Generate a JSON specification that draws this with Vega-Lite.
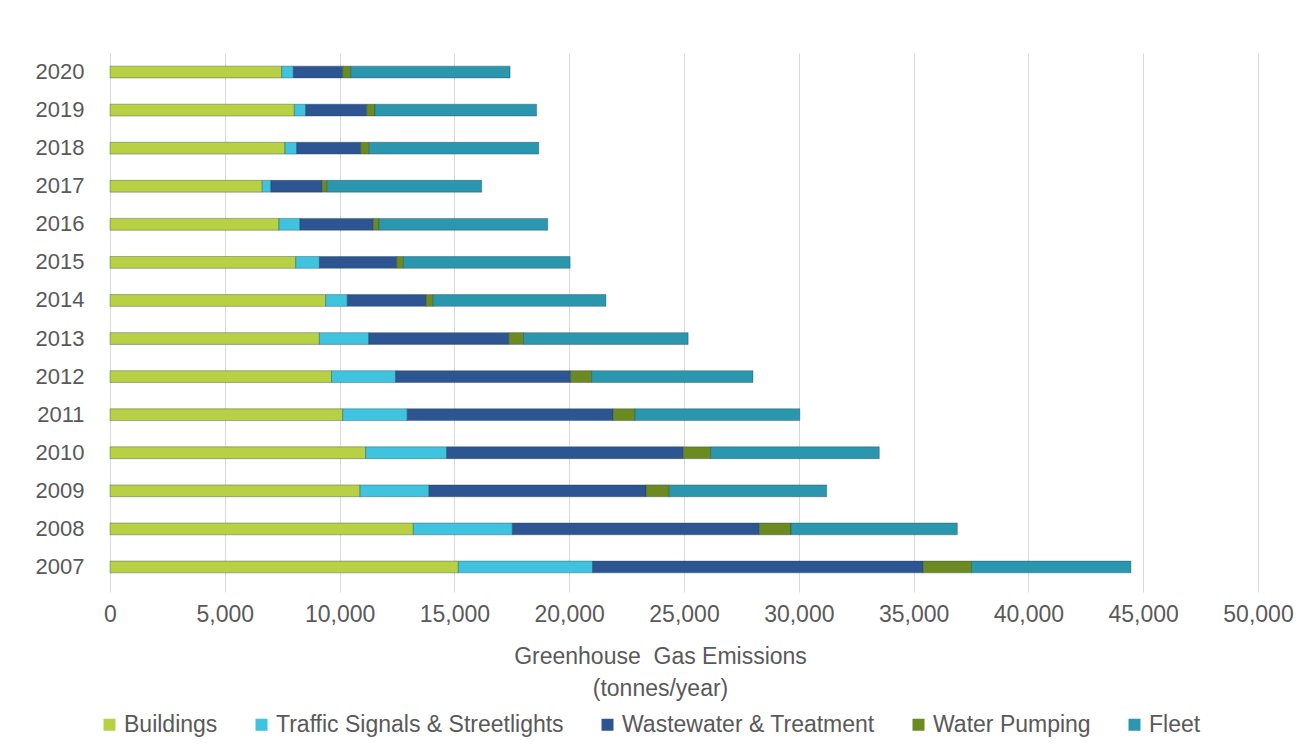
{
  "$schema": "https://vega.github.io/schema/vega-lite/v6.json",
  "autosize": {"type": "none"},
  "width": 1148,
  "height": 533,
  "padding": {"left": 110, "top": 53, "right": 54, "bottom": 168},
  "background": "white",
  "config": {
    "font": "Liberation Sans",
    "view": {"stroke": null},
    "axis": {"labelColor": "#595959", "titleColor": "#595959", "labelFontSize": 23, "titleFontSize": 23, "titleFontWeight": "normal"},
    "legend": {"labelColor": "#595959", "labelFontSize": 23}
  },
  "data": {
    "values": [
      {"year": "2007", "Buildings": 15170, "Traffic Signals & Streetlights": 5850, "Wastewater & Treatment": 14400, "Water Pumping": 2105, "Fleet": 6940},
      {"year": "2008", "Buildings": 13210, "Traffic Signals & Streetlights": 4315, "Wastewater & Treatment": 10755, "Water Pumping": 1380, "Fleet": 7245},
      {"year": "2009", "Buildings": 10890, "Traffic Signals & Streetlights": 3005, "Wastewater & Treatment": 9450, "Water Pumping": 1015, "Fleet": 6855},
      {"year": "2010", "Buildings": 11135, "Traffic Signals & Streetlights": 3530, "Wastewater & Treatment": 10305, "Water Pumping": 1190, "Fleet": 7345},
      {"year": "2011", "Buildings": 10130, "Traffic Signals & Streetlights": 2815, "Wastewater & Treatment": 8970, "Water Pumping": 945, "Fleet": 7185},
      {"year": "2012", "Buildings": 9650, "Traffic Signals & Streetlights": 2790, "Wastewater & Treatment": 7620, "Water Pumping": 915, "Fleet": 7030},
      {"year": "2013", "Buildings": 9120, "Traffic Signals & Streetlights": 2150, "Wastewater & Treatment": 6100, "Water Pumping": 640, "Fleet": 7170},
      {"year": "2014", "Buildings": 9390, "Traffic Signals & Streetlights": 945, "Wastewater & Treatment": 3425, "Water Pumping": 320, "Fleet": 7520},
      {"year": "2015", "Buildings": 8090, "Traffic Signals & Streetlights": 1030, "Wastewater & Treatment": 3370, "Water Pumping": 290, "Fleet": 7260},
      {"year": "2016", "Buildings": 7360, "Traffic Signals & Streetlights": 915, "Wastewater & Treatment": 3195, "Water Pumping": 250, "Fleet": 7345},
      {"year": "2017", "Buildings": 6630, "Traffic Signals & Streetlights": 380, "Wastewater & Treatment": 2235, "Water Pumping": 220, "Fleet": 6725},
      {"year": "2018", "Buildings": 7620, "Traffic Signals & Streetlights": 510, "Wastewater & Treatment": 2790, "Water Pumping": 375, "Fleet": 7380},
      {"year": "2019", "Buildings": 8030, "Traffic Signals & Streetlights": 495, "Wastewater & Treatment": 2655, "Water Pumping": 360, "Fleet": 7040},
      {"year": "2020", "Buildings": 7480, "Traffic Signals & Streetlights": 505, "Wastewater & Treatment": 2150, "Water Pumping": 350, "Fleet": 6940}
    ]
  },
  "transform": [
    {"fold": ["Buildings", "Traffic Signals & Streetlights", "Wastewater & Treatment", "Water Pumping", "Fleet"], "as": ["sector", "value"]},
    {"calculate": "indexof(['Buildings','Traffic Signals & Streetlights','Wastewater & Treatment','Water Pumping','Fleet'], datum.sector)", "as": "ord"}
  ],
  "mark": {"type": "bar", "stroke": "#1d3b45", "strokeWidth": 0.6, "strokeOpacity": 0.6},
  "encoding": {
    "y": {
      "field": "year", "type": "ordinal", "sort": "descending",
      "scale": {"paddingInner": 0.69, "paddingOuter": 0.345},
      "axis": {"title": null, "ticks": false, "domainColor": "#d9d9d9", "labelPadding": 26, "labelFontSize": 22, "grid": false}
    },
    "x": {
      "field": "value", "type": "quantitative", "stack": "zero",
      "scale": {"domain": [0, 50000], "nice": false},
      "axis": {
        "values": [0, 5000, 10000, 15000, 20000, 25000, 30000, 35000, 40000, 45000, 50000],
        "format": ",d", "domain": false, "grid": true, "gridColor": "#d9d9d9",
        "tickColor": "#d9d9d9", "tickSize": 6, "labelPadding": 11, "labelFlush": false,
        "title": ["Greenhouse\u00a0 Gas Emissions", "(tonnes/year)"],
        "titleX": 550, "titlePadding": 19, "titleLineHeight": 32
      }
    },
    "color": {
      "field": "sector", "type": "nominal",
      "sort": ["Buildings", "Traffic Signals & Streetlights", "Wastewater & Treatment", "Water Pumping", "Fleet"],
      "scale": {
        "domain": ["Buildings", "Traffic Signals & Streetlights", "Wastewater & Treatment", "Water Pumping", "Fleet"],
        "range": ["#b8d043", "#3fc3de", "#2c5592", "#6b8a1f", "#2a97ae"]
      },
      "legend": {
        "title": null, "orient": "none", "legendX": -12, "legendY": 660, "direction": "horizontal",
        "symbolType": "square", "symbolSize": 144, "symbolStrokeWidth": 0, "labelLimit": 0,
        "columnPadding": 32, "labelOffset": 3
      }
    },
    "order": {"field": "ord", "type": "quantitative"}
  }
}
